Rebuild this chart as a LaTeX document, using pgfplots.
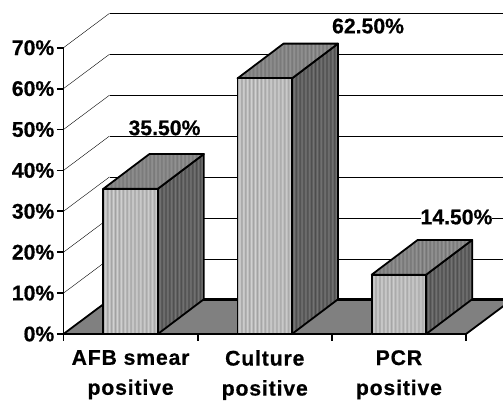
\documentclass[border=0pt]{standalone}
\usepackage{fontspec}
\setmainfont[BoldFeatures={FakeBold=0.6}]{Liberation Sans}
\usepackage{pgfplots}
\pgfplotsset{compat=1.18}

% striped faces: #2 stripes, light tone from #3 to #4, dark tone from #5 to #6
\newcommand{\makestripes}[6]{%
  \gdef\stops{}%
  \pgfmathtruncatemacro{\last}{#2-1}%
  \foreach \i in {0,...,\last}{%
    \pgfmathsetmacro{\posA}{25+50*\i/#2}%
    \pgfmathsetmacro{\posB}{25+50*(\i+0.5)/#2}%
    \pgfmathsetmacro{\tone}{#5+(#6-#5)*\i/#2}%
    \pgfmathsetmacro{\toneB}{#3+(#4-#3)*\i/#2}%
    \xdef\stops{\stops rgb(\posA bp)=(\tone,\tone,\tone);rgb(\posB bp)=(\toneB,\toneB,\toneB);}%
  }%
  \pgfmathsetmacro{\tone}{#6}%
  \edef\next{\noexpand\pgfdeclarehorizontalshading{#1}{100bp}{rgb(0bp)=(\tone,\tone,\tone);\stops rgb(75bp)=(\tone,\tone,\tone);rgb(100bp)=(\tone,\tone,\tone)}}%
  \next
}
\makestripes{frontfill}{14}{0.84}{0.80}{0.62}{0.66}
\makestripes{topfill}{26}{0.58}{0.60}{0.44}{0.46}
\makestripes{sidefill}{12}{0.46}{0.46}{0.30}{0.30}

\newcommand{\bigbold}{\bfseries\fontsize{21.2}{24}\selectfont}

\begin{document}
\begin{tikzpicture}[
  lbl/.style={font=\bigbold, fill=white, inner sep=0pt, anchor=center},
  edge/.style={draw=black, line width=1.8pt, line join=round},
  front/.style={edge, shade, shading=frontfill, shading angle=0},
  topface/.style={edge, shade, shading=topfill, shading angle=0},
  sideface/.style={edge, shade, shading=sidefill, shading angle=0},
  grid/.style={black, line width=1.7pt},
]
\clip[use as bounding box] (0pt,0pt) rectangle (503pt,400pt);
\begin{axis}[
    at={(63.5pt,66pt)}, anchor=south west,
    x=134.17pt, y=4.09pt,
    xmin=0, xmax=3.2756, ymin=0, ymax=81.66,
    clip=false,
    axis lines*=left,
    axis line style={draw=none},
    tick align=outside,
    major tick length=6.5pt,
    tick style={black, line width=1.8pt},
    ytick={0,10,20,30,40,50,60,70},
    yticklabel={\pgfmathprintnumber{\tick}\%},
    /pgf/number format/assume math mode=true,
    yticklabel style={font=\bigbold, inner sep=0pt, xshift=-2.5pt},
    xtick={0,1,2,3},
    xticklabels={},
    extra x ticks={0.5,1.5,2.5},
    extra x tick labels={AFB smear\\[6pt]positive,Culture\\[6pt]positive,PCR\\[6pt]positive},
    extra x tick style={
      major tick length=0pt,
      xticklabel style={font=\bigbold\addfontfeatures{LetterSpace=4}, align=center, yshift=-16pt, inner sep=0pt},
    },
]
% left wall diagonals
\addplot[grid] coordinates {(0,10) (0.343,18.4)};
\addplot[grid] coordinates {(0,20) (0.343,28.4)};
\addplot[grid] coordinates {(0,30) (0.343,38.4)};
\addplot[grid] coordinates {(0,40) (0.343,48.4)};
\addplot[grid] coordinates {(0,50) (0.343,58.4)};
\addplot[grid] coordinates {(0,60) (0.343,68.4)};
\addplot[grid] coordinates {(0,70) (0.343,78.4)};
% back wall lines
\addplot[grid] coordinates {(0.343,18.4) (3.343,18.4)};
\addplot[grid] coordinates {(0.343,28.4) (3.343,28.4)};
\addplot[grid] coordinates {(0.343,38.4) (3.343,38.4)};
\addplot[grid] coordinates {(0.343,48.4) (3.343,48.4)};
\addplot[grid] coordinates {(0.343,58.4) (3.343,58.4)};
\addplot[grid] coordinates {(0.343,68.4) (3.343,68.4)};
\addplot[grid] coordinates {(0.343,78.4) (3.343,78.4)};
% floor
\addplot[edge, fill=black!50] coordinates {(0,0) (0.343,8.4) (3.343,8.4) (3,0)} --cycle;
\addplot[black, line width=2.6pt] coordinates {(0.343,8.5) (3.343,8.5)};
% axis lines
\addplot[edge] coordinates {(0,70) (0,0) (3,0)};
% bars: side, top, front
\addplot[sideface] coordinates {(0.703,0) (1.046,8.5) (1.046,44) (0.703,35.5)} --cycle;
\addplot[topface] coordinates {(0.297,35.5) (0.64,44) (1.046,44) (0.703,35.5)} --cycle;
\addplot[front] coordinates {(0.297,0) (0.297,35.5) (0.703,35.5) (0.703,0)} --cycle;
\addplot[sideface] coordinates {(1.703,0) (2.046,8.5) (2.046,71) (1.703,62.5)} --cycle;
\addplot[topface] coordinates {(1.297,62.5) (1.64,71) (2.046,71) (1.703,62.5)} --cycle;
\addplot[front] coordinates {(1.297,0) (1.297,62.5) (1.703,62.5) (1.703,0)} --cycle;
\addplot[sideface] coordinates {(2.703,0) (3.046,8.5) (3.046,23) (2.703,14.5)} --cycle;
\addplot[topface] coordinates {(2.297,14.5) (2.64,23) (3.046,23) (2.703,14.5)} --cycle;
\addplot[front] coordinates {(2.297,0) (2.297,14.5) (2.703,14.5) (2.703,0)} --cycle;
% value labels
\node[lbl] at (axis cs:0.753,50.4) {35.50\%};
\node[lbl] at (axis cs:2.27,75.3) {62.50\%};
\node[lbl] at (axis cs:2.929,28.6) {14.50\%};
\end{axis}
\end{tikzpicture}
\end{document}
